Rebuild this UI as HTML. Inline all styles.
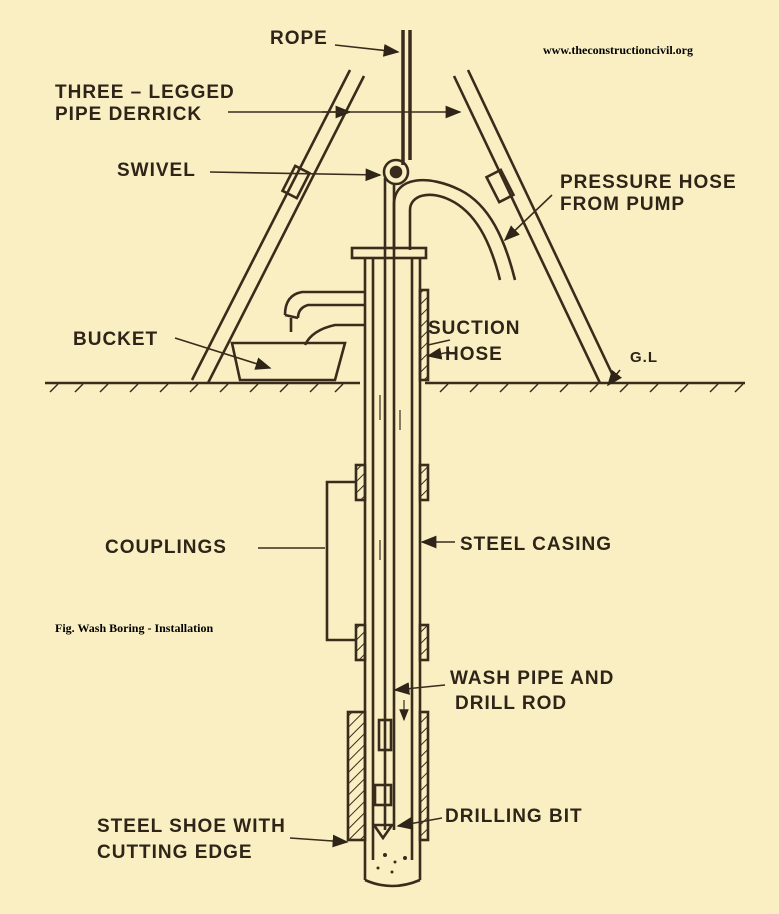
<!DOCTYPE html>
<html><head><meta charset="utf-8"><style>
html,body{margin:0;padding:0;background:#faefc2;}
svg{display:block}
.l{font-family:"Liberation Sans",sans-serif;font-weight:bold;font-size:19px;fill:#2e2418;letter-spacing:1px}
.s{font-family:"Liberation Serif",serif;font-weight:bold;font-size:12px;fill:#000}
</style></head><body>
<svg width="779" height="914" viewBox="0 0 779 914" xmlns="http://www.w3.org/2000/svg">
<defs>
<marker id="a" markerWidth="10" markerHeight="10" refX="9" refY="5" orient="auto"><path d="M0,1 L10,5 L0,9 z" fill="#2e2418"/></marker>
<pattern id="h" width="8" height="8" patternUnits="userSpaceOnUse" patternTransform="rotate(45)"><line x1="0" y1="0" x2="0" y2="8" stroke="#3a2c1c" stroke-width="2"/></pattern>
</defs>
<rect width="779" height="914" fill="#faefc2"/>
<g stroke="#3a2c1c" fill="none" stroke-width="2.6">
<line x1="45" y1="383" x2="360" y2="383"/><line x1="425" y1="383" x2="745" y2="383"/>
<path d="M50,392 l8,-8 M75,392 l8,-8 M100,392 l8,-8 M130,392 l8,-8 M160,392 l8,-8 M190,392 l8,-8 M220,392 l8,-8 M250,392 l8,-8 M280,392 l8,-8 M310,392 l8,-8 M335,392 l8,-8 M440,392 l8,-8 M470,392 l8,-8 M500,392 l8,-8 M530,392 l8,-8 M560,392 l8,-8 M590,392 l8,-8 M620,392 l8,-8 M650,392 l8,-8 M680,392 l8,-8 M710,392 l8,-8 M735,392 l8,-8" stroke-width="1.5"/>
<path d="M350,70 L192,380 M364,76 L208,383"/>
<path d="M454,76 L600,383 M468,70 L615,380"/>
<rect x="288" y="168" width="16" height="28" transform="rotate(27 296 182)"/>
<rect x="492" y="172" width="16" height="28" transform="rotate(-27 500 186)"/>
<path d="M403,30 L403,165 M410,30 L410,160" stroke-width="3.5"/>
<circle cx="396" cy="172" r="12"/><circle cx="396" cy="172" r="5" fill="#3a2c1c"/>
<path d="M385,178 L385,830 M394,185 L394,830"/>
<rect x="379" y="720" width="12" height="30"/><rect x="375" y="785" width="16" height="20"/>
<path d="M374,825 L392,825 L383,838 z"/>
<path d="M394,250 L394,205 C394,175 430,175 460,190 C490,205 505,240 515,280"/>
<path d="M410,250 L410,210 C410,195 430,190 450,200 C475,212 490,240 500,280"/>
<path d="M365,258 L365,880 M420,258 L420,880"/>
<path d="M373,258 L373,860 M412,258 L412,860"/>
<rect x="352" y="248" width="74" height="10"/>
<path d="M365,880 Q392,892 420,880"/>
<path d="M365,292 L302,292 Q285,295 285,315 M365,305 L308,305 Q298,308 298,318"/>
<path d="M285,315 L298,318 M291,318 L291,332" />
<path d="M365,325 L335,325 Q312,330 305,345"/>
<path d="M232,343 L345,343 L335,380 L240,380 z"/>
<path d="M357,482 L327,482 L327,640 L357,640"/>
<rect x="356" y="465" width="9" height="35" fill="url(#h)"/><rect x="356" y="625" width="9" height="35" fill="url(#h)"/>
<rect x="420" y="465" width="8" height="35" fill="url(#h)"/><rect x="420" y="625" width="8" height="35" fill="url(#h)"/>
<rect x="420" y="290" width="8" height="90" fill="url(#h)"/>
<rect x="348" y="712" width="17" height="128" fill="url(#h)"/>
<rect x="420" y="712" width="8" height="128" fill="url(#h)"/>
<path d="M380,420 L380,395 M400,430 L400,410 M380,560 L380,540 M404,700 L404,720" marker-end="url(#a)" stroke-width="1.2"/>
<path d="M450,340 L428,345 M450,352 L428,356" stroke-width="1.5" marker-end="url(#a)"/>
<g stroke-width="1.6">
<path d="M335,45 L398,52" marker-end="url(#a)"/>
<path d="M228,112 L350,112" marker-end="url(#a)"/>
<path d="M322,112 L460,112" marker-end="url(#a)"/>
<path d="M210,172 L380,175" marker-end="url(#a)"/>
<path d="M552,195 L505,240" marker-end="url(#a)"/>
<path d="M175,338 L270,368" marker-end="url(#a)"/>
<path d="M620,370 L608,385" marker-end="url(#a)"/>
<path d="M258,548 L325,548"/>
<path d="M455,542 L422,542" marker-end="url(#a)"/>
<path d="M445,685 L395,690" marker-end="url(#a)"/>
<path d="M442,818 L398,826" marker-end="url(#a)"/>
<path d="M290,838 L347,842" marker-end="url(#a)"/>
</g>
</g>
<g fill="#3a2c1c"><circle cx="385" cy="855" r="2"/><circle cx="395" cy="862" r="1.5"/><circle cx="378" cy="868" r="1.5"/><circle cx="405" cy="858" r="2"/><circle cx="392" cy="872" r="1.5"/></g>
<text class="l" x="270" y="44">ROPE</text>
<text class="s" x="543" y="54">www.theconstructioncivil.org</text>
<text class="l" x="55" y="98">THREE – LEGGED</text>
<text class="l" x="55" y="120">PIPE DERRICK</text>
<text class="l" x="117" y="176">SWIVEL</text>
<text class="l" x="560" y="188">PRESSURE HOSE</text>
<text class="l" x="560" y="210">FROM PUMP</text>
<text class="l" x="428" y="334">SUCTION</text>
<text class="l" x="445" y="360">HOSE</text>
<text class="l" x="73" y="345">BUCKET</text>
<text class="l" x="630" y="362" style="font-size:15px">G.L</text>
<text class="l" x="105" y="553">COUPLINGS</text>
<text class="l" x="460" y="550">STEEL CASING</text>
<text class="s" x="55" y="632">Fig. Wash Boring - Installation</text>
<text class="l" x="450" y="684">WASH PIPE AND</text>
<text class="l" x="455" y="709">DRILL ROD</text>
<text class="l" x="445" y="822">DRILLING BIT</text>
<text class="l" x="97" y="832">STEEL SHOE WITH</text>
<text class="l" x="97" y="858">CUTTING EDGE</text>
</svg>
</body></html>
